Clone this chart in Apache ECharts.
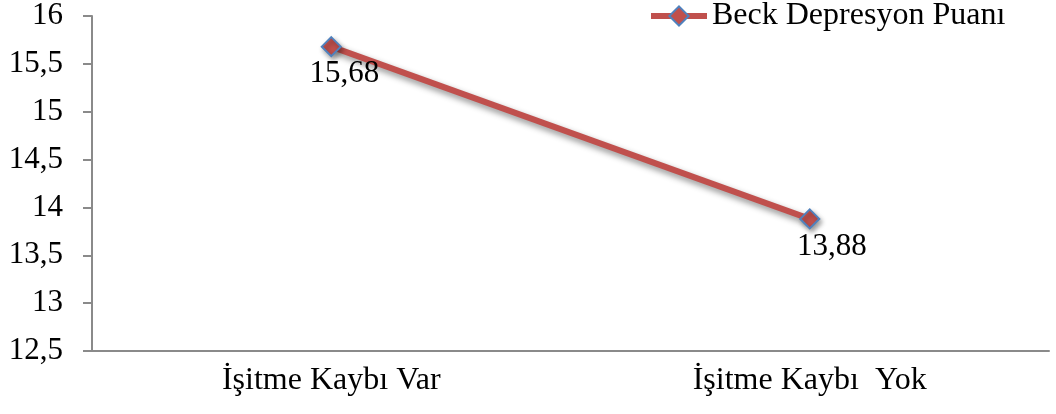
<!DOCTYPE html>
<html>
<head>
<meta charset="utf-8">
<script src="https://cdn.jsdelivr.net/npm/echarts@6/dist/echarts.min.js"></script>
<style>
  html, body { margin: 0; padding: 0; background: #fff; }
  #chart { width: 1056px; height: 414px; }
</style>
</head>
<body>
<div id="chart"></div>
<script>
// Category names and mean scores
const categories = ['İşitme Kaybı Var', 'İşitme Kaybı  Yok'];
const seriesName = 'Beck Depresyon Puanı';
const scores = [15.68, 13.88];

// Value axis range
const yMin = 12.5;
const yMax = 16;
const yStep = 0.5;

const FONT = '"Liberation Serif", "Times New Roman", serif';
const AXIS_COLOR = '#8a8a8a';
const LINE_COLOR = '#C0504D';
const MARKER_BORDER = '#4F81BD';

const fmt = v => String(v).replace('.', ',');

// label nudges so the numbers sit just below-right of each marker
const labelOffsets = [[13, 27], [22, 28]];

const chart = echarts.init(document.getElementById('chart'), null, { renderer: 'canvas' });

chart.setOption({
  animation: false,
  backgroundColor: '#ffffff',
  textStyle: { fontFamily: FONT },
  grid: { left: 92, right: 7, top: 16, bottom: 63, containLabel: false },
  legend: {
    data: [seriesName],
    left: 648,
    top: 0,
    padding: 0,
    itemWidth: 56,
    itemHeight: 24,
    itemGap: 5,
    lineStyle: { width: 6, shadowBlur: 0, shadowOffsetX: 0, shadowOffsetY: 0 },
    itemStyle: { shadowBlur: 0, shadowOffsetX: 0, shadowOffsetY: 0 },
    textStyle: { fontFamily: FONT, fontSize: 32, color: '#000' }
  },
  xAxis: {
    type: 'category',
    data: categories,
    boundaryGap: true,
    axisLine: { show: true, lineStyle: { color: AXIS_COLOR, width: 2 } },
    axisTick: { show: false },
    axisLabel: { fontFamily: FONT, fontSize: 32, color: '#000', margin: 14 },
    splitLine: { show: false }
  },
  yAxis: {
    type: 'value',
    min: yMin,
    max: yMax,
    interval: yStep,
    axisLine: { show: true, lineStyle: { color: AXIS_COLOR, width: 2 } },
    axisTick: { show: true, inside: false, length: 9, lineStyle: { color: AXIS_COLOR, width: 2 } },
    axisLabel: { fontFamily: FONT, fontSize: 31, color: '#000', margin: 29, formatter: fmt },
    splitLine: { show: false }
  },
  series: [{
    name: seriesName,
    type: 'line',
    data: scores.map((v, i) => ({
      value: v,
      label: { offset: labelOffsets[i] }
    })),
    symbol: 'diamond',
    symbolSize: 19,
    lineStyle: {
      color: LINE_COLOR,
      width: 6,
      shadowColor: 'rgba(0,0,0,0.45)',
      shadowBlur: 6,
      shadowOffsetX: 3,
      shadowOffsetY: 4
    },
    itemStyle: {
      color: LINE_COLOR,
      borderColor: MARKER_BORDER,
      borderWidth: 2,
      shadowColor: 'rgba(0,0,0,0.35)',
      shadowBlur: 5,
      shadowOffsetX: 2,
      shadowOffsetY: 3
    },
    label: {
      show: true,
      position: 'inside',
      fontFamily: FONT,
      fontSize: 31,
      color: '#000',
      formatter: p => fmt(p.value)
    },
    emphasis: { disabled: true }
  }]
});
</script>
</body>
</html>
